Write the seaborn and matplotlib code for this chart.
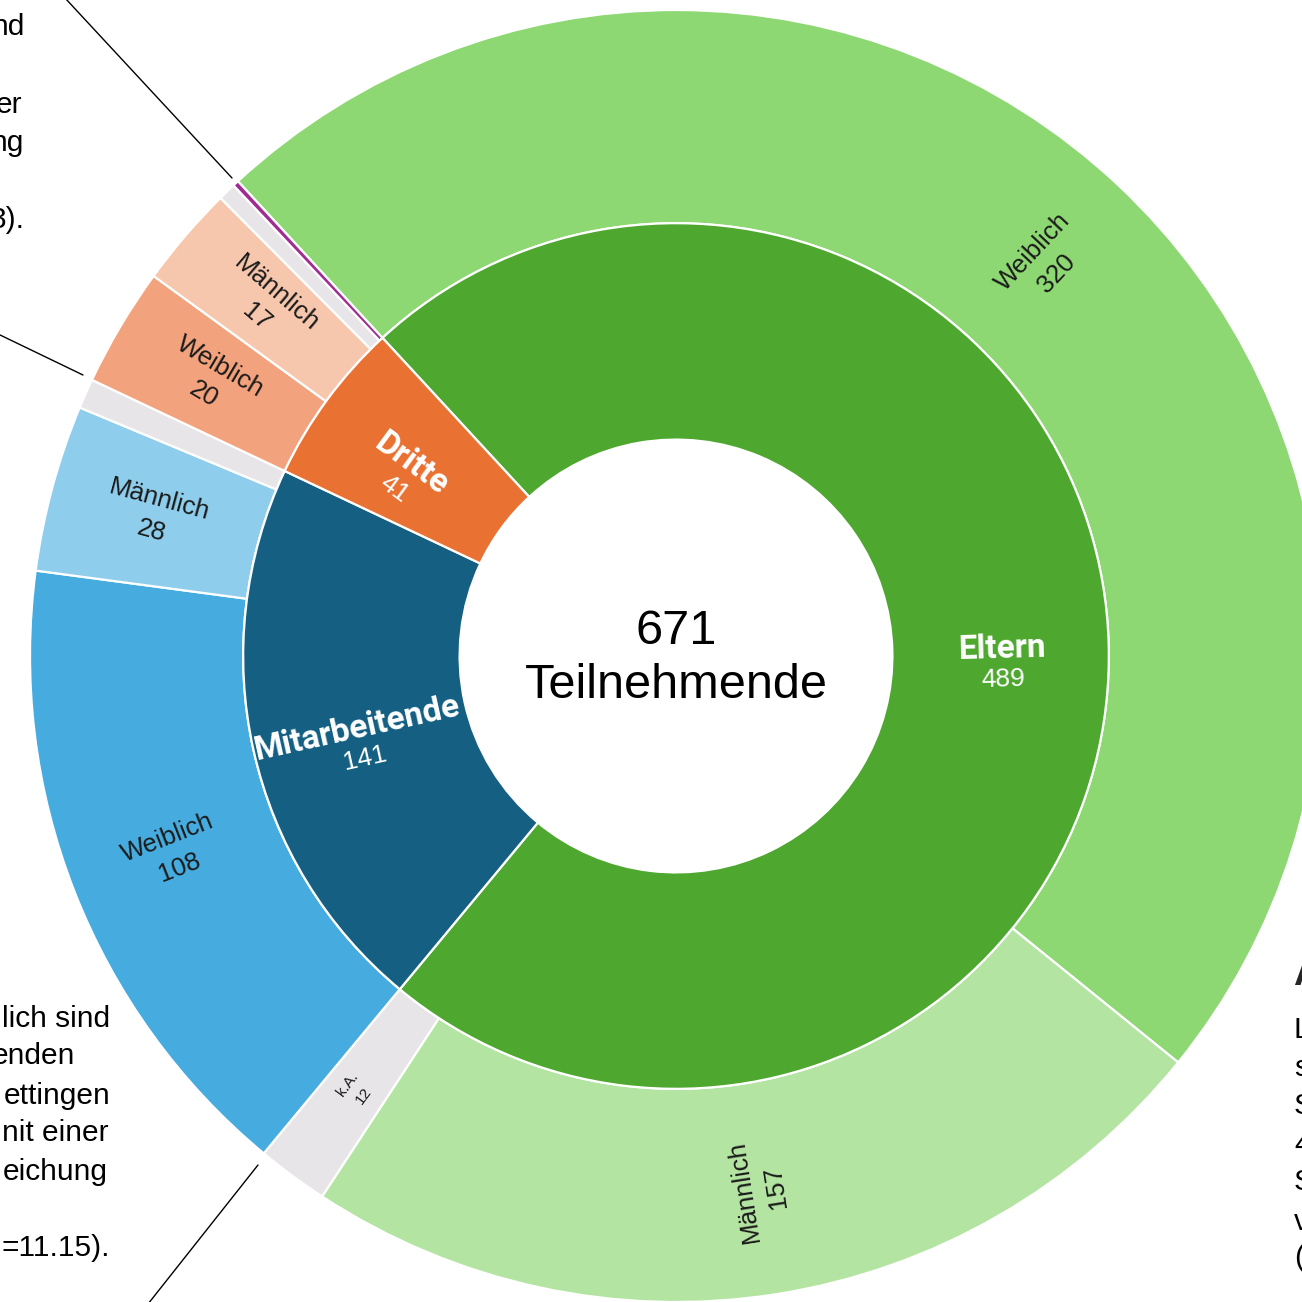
import numpy as np
import matplotlib
matplotlib.use("Agg")
import matplotlib.pyplot as plt
from matplotlib.lines import Line2D
import seaborn as sns

# ---- data -------------------------------------------------------------
groups = ["Eltern", "Mitarbeitende", "Dritte"]
group_totals = [489, 141, 41]

sub_groups = ["Eltern", "Eltern", "Eltern",
              "Mitarbeitende", "Mitarbeitende", "Mitarbeitende",
              "Dritte", "Dritte", "Dritte", "Dritte"]
sub_labels = ["Weiblich", "Männlich", "k.A.",
              "Weiblich", "Männlich", "k.A.",
              "Weiblich", "Männlich", "k.A.", "divers"]
sub_values = [320, 157, 12,
              108, 28, 5,
              20, 17, 3, 1]

total_label = "Teilnehmende"

# ---- styling ----------------------------------------------------------
sns.set_theme(style="white")
plt.rcParams["font.family"] = ["Liberation Sans", "DejaVu Sans"]

group_colors = {"Eltern": "#4ea72e", "Mitarbeitende": "#156082", "Dritte": "#e97132"}
sub_colors = ["#8dd872", "#b3e4a1", "#e7e5e8",
              "#46ace0", "#8ecdeb", "#e7e5e8",
              "#f2a27c", "#f7c7ad", "#e7e5e8", "#a02b93"]

SCALE = 646.0          # pixels per unit radius
CX, CY = 676.0, 656.0  # centre of the rings in pixels
W = H = 1302

R_OUT, R_MID, R_IN = 1.0, 0.670, 0.335
START = 132.7

fig = plt.figure(figsize=(13.02, 13.02), dpi=100)
ax = fig.add_axes([0, 0, 1, 1])

wedge_kw = dict(edgecolor="white", linewidth=1.6)
ax.pie(sub_values, radius=R_OUT, startangle=START, counterclock=False,
       colors=sub_colors, wedgeprops=dict(width=R_OUT - R_MID, **wedge_kw))
ax.pie(group_totals, radius=R_MID, startangle=START, counterclock=False,
       colors=[group_colors[g] for g in groups],
       wedgeprops=dict(width=R_MID - R_IN, **wedge_kw))

ax.set_xlim(-CX / SCALE, (W - CX) / SCALE)
ax.set_ylim(-(H - CY) / SCALE, CY / SCALE)
ax.set_aspect("equal")
ax.axis("off")


def mid_angles(values):
    v = np.asarray(values, dtype=float)
    ends = START - np.cumsum(v) / v.sum() * 360.0
    starts = ends + v / v.sum() * 360.0
    return (starts + ends) / 2.0


def radial_label(theta, r, lines, gap_px, shift_px=0.0):
    """Place stacked lines of text along the radius at angle theta."""
    t = np.deg2rad(theta)
    x0, y0 = r * np.cos(t), r * np.sin(t)
    rot = ((theta + 180) % 360) - 180
    if rot > 120:
        rot -= 180
    elif rot < -60:
        rot += 180
    ur = np.deg2rad(rot)
    up = np.array([-np.sin(ur), np.cos(ur)])
    n = len(lines)
    for i, (txt, kw) in enumerate(lines):
        k = (n - 1) / 2.0 - i
        dx, dy = up * (k * gap_px - shift_px) / SCALE
        ax.text(x0 + dx, y0 + dy, txt, rotation=rot, rotation_mode="anchor",
                ha="center", va="center", **kw)


# inner ring labels
for g, v, th in zip(groups, group_totals, mid_angles(group_totals)):
    radial_label(th, 0.505, [
        (g, dict(color="white", fontsize=24, fontweight="bold",
                 family=["Roboto", "Liberation Sans", "DejaVu Sans"])),
        (str(v), dict(color="white", fontsize=19,
                      family=["Liberation Sans", "DejaVu Sans"])),
    ], gap_px=31, shift_px=17)

# outer ring labels (only segments wide enough for text)
for lab, v, th in zip(sub_labels, sub_values, mid_angles(sub_values)):
    if v < 10:
        continue
    small = lab == "k.A."
    size = 11 if small else 18.5
    gap = 19 if small else 32
    radial_label(th, 0.835, [
        (lab, dict(color="#1a1a1a", fontsize=size)),
        (str(v), dict(color="#1a1a1a", fontsize=size)),
    ], gap_px=gap)

# centre text
ax.text(0, (CY - 631) / SCALE, str(sum(group_totals)), ha="center", va="center",
        fontsize=35, color="black")
ax.text(0, (CY - 686) / SCALE, total_label, ha="center", va="center",
        fontsize=35, color="black")


def px(x, y):
    return (x - CX) / SCALE, (CY - y) / SCALE


# leader lines towards the surrounding text
for (x1, y1), (x2, y2) in [((65, -2), (232, 178)), ((-2, 334), (83, 375)),
                           ((148, 1304), (258, 1165))]:
    (a, b), (c, d) = px(x1, y1), px(x2, y2)
    ax.add_line(Line2D([a, c], [b, d], color="black", linewidth=1.0, clip_on=False))

# surrounding body text
body = dict(fontsize=21.5, color="black")
for txt, xr, yc in [("nd", 25, 27), ("er", 22, 105), ("ng", 24, 143), ("3).", 25, 220),
                    ("lich sind", 110, 1019), ("enden", 75, 1056),
                    ("ettingen", 110, 1096), ("nit einer", 108, 1133),
                    ("eichung", 108, 1172), ("=11.15).", 110, 1248)]:
    x, y = px(xr, yc)
    ax.text(x, y, txt, ha="right", va="center", **body)

x, y = px(1293, 975)
ax.text(x, y, "A", ha="left", va="center", fontsize=28, fontweight="bold")
for ch, yc in [("L", 1030), ("s", 1068), ("S", 1106), ("4", 1145),
               ("S", 1182), ("v", 1222), ("(", 1258)]:
    x, y = px(1294, yc)
    ax.text(x, y, ch, ha="left", va="center", **body)

fig.savefig("out.png", dpi=100, facecolor="white")
